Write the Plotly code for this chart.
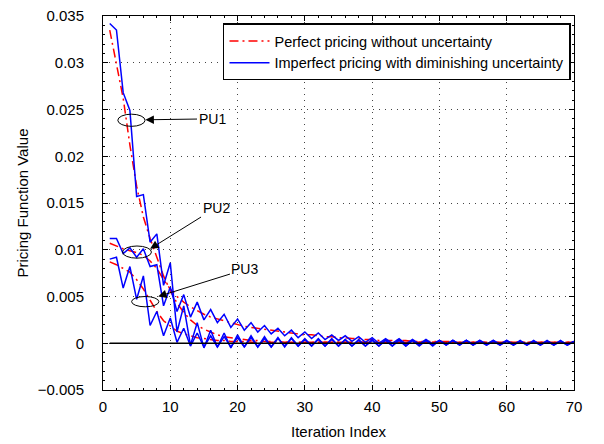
import plotly.graph_objects as go

# Índice de iteración
iteraciones = list(range(1, 71))

# PU1: precio perfecto (sin incertidumbre) e imperfecto (incertidumbre decreciente)
pu1_perfecto = [0.0335, 0.0300, 0.0262, 0.0212, 0.0168, 0.0135, 0.0112, 0.0092, 0.0072, 0.0056,
                0.0043, 0.0033, 0.0025, 0.0019, 0.0015, 0.0012, 0.0009, 0.0007, 0.0006, 0.0005,
                0.0004, 0.0003, 0.0003, 0.0002, 0.0002, 0.0002, 0.0001, 0.0001, 0.0001, 0.0001,
                0.0001, 0.0001, 0.0001, 0.0001, 0.0001, 0.0001, 0.0001, 0.0001, 0.0001, 0.0001,
                0.0001, 0.0001, 0.0001, 0.0001, 0.0001, 0.0001, 0.0001, 0.0001, 0.0001, 0.0001,
                0.0001, 0.0001, 0.0001, 0.0001, 0.0001, 0.0001, 0.0001, 0.0001, 0.0001, 0.0001,
                0.0001, 0.0001, 0.0001, 0.0001, 0.0001, 0.0001, 0.0001, 0.0001, 0.0001, 0.0001]
pu1_imperfecto = [0.0342, 0.0335, 0.0268, 0.0249, 0.0157, 0.0159, 0.0108, 0.0117, 0.0062, 0.0086,
                  0.0012, 0.0040, -0.0002, 0.0022, -0.0005, 0.0014, -0.0004, 0.0011, -0.0005, 0.0009,
                  -0.0004, 0.0008, -0.0004, 0.0007, -0.0004, 0.0006, -0.0004, 0.0006, -0.0003, 0.0005,
                  -0.0003, 0.0005, -0.0003, 0.0005, -0.0003, 0.0004, -0.0003, 0.0004, -0.0003, 0.0004,
                  -0.0003, 0.0004, -0.0003, 0.0004, -0.0003, 0.0003, -0.0003, 0.0003, -0.0003, 0.0003,
                  -0.0002, 0.0003, -0.0002, 0.0003, -0.0002, 0.0003, -0.0002, 0.0003, -0.0002, 0.0003,
                  -0.0002, 0.0003, -0.0002, 0.0003, -0.0002, 0.0003, -0.0002, 0.0003, -0.0002, 0.0002]

# PU2
pu2_perfecto = [0.0107, 0.0104, 0.0101, 0.0099, 0.0097, 0.0094, 0.0088, 0.0080, 0.0068, 0.0058,
                0.0050, 0.0044, 0.0039, 0.0035, 0.0031, 0.0028, 0.0026, 0.0024, 0.0022, 0.0020,
                0.0018, 0.0017, 0.0016, 0.0015, 0.0014, 0.0013, 0.0012, 0.0011, 0.0010, 0.0009,
                0.0009, 0.0008, 0.0007, 0.0007, 0.0006, 0.0006, 0.0005, 0.0005, 0.0004, 0.0004,
                0.0003, 0.0003, 0.0003, 0.0003, 0.0003, 0.0002, 0.0002, 0.0002, 0.0002, 0.0002,
                0.0002, 0.0002, 0.0001, 0.0001, 0.0001, 0.0001, 0.0001, 0.0001, 0.0001, 0.0001,
                0.0001, 0.0001, 0.0001, 0.0001, 0.0001, 0.0001, 0.0001, 0.0001, 0.0001, 0.0001]
pu2_imperfecto = [0.0112, 0.0112, 0.0096, 0.0102, 0.0092, 0.0101, 0.0082, 0.0084, 0.0040, 0.0060,
                  0.0034, 0.0052, 0.0028, 0.0044, 0.0025, 0.0036, 0.0022, 0.0031, 0.0017, 0.0026,
                  0.0014, 0.0022, 0.0012, 0.0019, 0.0010, 0.0016, 0.0008, 0.0014, 0.0006, 0.0012,
                  0.0005, 0.0011, 0.0004, 0.0009, 0.0003, 0.0008, 0.0002, 0.0007, 0.0001, 0.0006,
                  0.0000, 0.0005, 0.0000, 0.0005, -0.0001, 0.0004, -0.0001, 0.0004, -0.0001, 0.0003,
                  -0.0001, 0.0003, -0.0001, 0.0003, -0.0001, 0.0003, -0.0001, 0.0003, -0.0001, 0.0003,
                  -0.0001, 0.0002, -0.0001, 0.0002, -0.0001, 0.0002, -0.0001, 0.0002, -0.0001, 0.0002]

# PU3
pu3_perfecto = [0.0087, 0.0084, 0.0080, 0.0076, 0.0068, 0.0058, 0.0046, 0.0034, 0.0024, 0.0018,
                0.0013, 0.0010, 0.0008, 0.0006, 0.0005, 0.0004, 0.0003, 0.0003, 0.0002, 0.0002,
                0.0002, 0.0001, 0.0001, 0.0001, 0.0001, 0.0001, 0.0001, 0.0001, 0.0001, 0.0001,
                0.0001, 0.0001, 0.0001, 0.0001, 0.0001, 0.0001, 0.0001, 0.0001, 0.0001, 0.0001,
                0.0001, 0.0001, 0.0001, 0.0001, 0.0001, 0.0001, 0.0001, 0.0001, 0.0001, 0.0001,
                0.0000, 0.0000, 0.0000, 0.0000, 0.0000, 0.0000, 0.0000, 0.0000, 0.0000, 0.0000,
                0.0000, 0.0000, 0.0000, 0.0000, 0.0000, 0.0000, 0.0000, 0.0000, 0.0000, 0.0000]
pu3_imperfecto = [0.0090, 0.0092, 0.0059, 0.0082, 0.0047, 0.0072, 0.0019, 0.0034, 0.0008, 0.0027,
                  0.0001, 0.0016, -0.0003, 0.0011, -0.0004, 0.0008, -0.0004, 0.0007, -0.0004, 0.0006,
                  -0.0004, 0.0006, -0.0004, 0.0005, -0.0004, 0.0005, -0.0003, 0.0005, -0.0003, 0.0004,
                  -0.0003, 0.0004, -0.0003, 0.0004, -0.0003, 0.0004, -0.0003, 0.0003, -0.0003, 0.0003,
                  -0.0003, 0.0003, -0.0003, 0.0003, -0.0003, 0.0003, -0.0002, 0.0003, -0.0002, 0.0003,
                  -0.0002, 0.0003, -0.0002, 0.0003, -0.0002, 0.0002, -0.0002, 0.0002, -0.0002, 0.0002,
                  -0.0002, 0.0002, -0.0002, 0.0002, -0.0002, 0.0002, -0.0002, 0.0002, -0.0002, 0.0002]

perfectos = [pu1_perfecto, pu2_perfecto, pu3_perfecto]
imperfectos = [pu1_imperfecto, pu2_imperfecto, pu3_imperfecto]

fuente = "Liberation Sans, Arial, Helvetica, sans-serif"

fig = go.Figure()

# Curvas rojas (precio perfecto)
for i, serie in enumerate(perfectos):
    fig.add_trace(go.Scatter(
        x=iteraciones, y=serie, mode="lines",
        name="Perfect pricing without uncertainty",
        legendgroup="perfecto", showlegend=(i == 0),
        line=dict(color="#ff0000", width=1.5, dash="9px,4px,2px,4px")
    ))

# Curvas azules (precio imperfecto)
for i, serie in enumerate(imperfectos):
    fig.add_trace(go.Scatter(
        x=iteraciones, y=serie, mode="lines",
        name="Imperfect pricing with diminishing uncertainty",
        legendgroup="imperfecto", showlegend=(i == 0),
        line=dict(color="#0000ff", width=1.5)
    ))

# Línea negra en cero
fig.add_shape(type="line", xref="x", yref="y",
              x0=iteraciones[0], x1=iteraciones[-1], y0=0, y1=0,
              line=dict(color="black", width=1.5))

# Elipses que marcan cada PU
elipses = [(2.2, 6.25, 0.0232, 0.0245), (2.9, 7.2, 0.0091, 0.0104), (4.25, 8.3, 0.0039, 0.0050)]
for x0, x1, y0, y1 in elipses:
    fig.add_shape(type="circle", xref="x", yref="y", x0=x0, x1=x1, y0=y0, y1=y1,
                  line=dict(color="black", width=1))

# Flechas con etiquetas
etiquetas = [("PU1", 6.3, 0.0239, 16.2, 0.0240),
             ("PU2", 7.0, 0.0101, 16.8, 0.0145),
             ("PU3", 8.2, 0.0050, 21.1, 0.0079)]
for texto, xp, yp, xt, yt in etiquetas:
    fig.add_annotation(x=xp, y=yp, ax=xt, ay=yt, xref="x", yref="y", axref="x", ayref="y",
                       text=texto, showarrow=True, arrowhead=2, arrowsize=1.7, arrowwidth=1,
                       arrowcolor="black", font=dict(size=14, color="black", family=fuente))

ejes = dict(showline=True, linecolor="black", linewidth=1, mirror="ticks",
            ticks="inside", ticklen=5, tickcolor="black", automargin=False,
            ticklabeloverflow="allow",
            showgrid=True, gridcolor="#444", griddash="1px,5px", gridwidth=1,
            zeroline=False, tickfont=dict(size=15, color="black"),
            title_font=dict(size=15, color="black"))

fig.update_xaxes(range=[0, 70], dtick=10, title_text="Iteration Index",
                 ticklabelstandoff=3, title_standoff=12,
                 minor=dict(ticks="inside", ticklen=2, dtick=2, tickcolor="black", showgrid=False),
                 **ejes)
fig.update_yaxes(range=[-0.005, 0.035], dtick=0.005, title_text="Pricing Function Value",
                 ticklabelstandoff=15, title_standoff=5,
                 minor=dict(ticks="inside", ticklen=2, dtick=0.001, tickcolor="black", showgrid=False),
                 **ejes)

# La página añade 8 px de margen, así que la figura se reduce para encajar en 604x444
fig.update_layout(
    width=596, height=436,
    margin=dict(l=95, r=30, t=8, b=54),
    plot_bgcolor="white", paper_bgcolor="white",
    font=dict(family=fuente, size=14, color="black"),
    legend=dict(x=0.9936, xanchor="right", y=0.98, yanchor="top",
                bgcolor="white", bordercolor="black", borderwidth=1.5,
                font=dict(size=14.5), itemwidth=40, tracegroupgap=0),
)

fig.write_html("out.html")
